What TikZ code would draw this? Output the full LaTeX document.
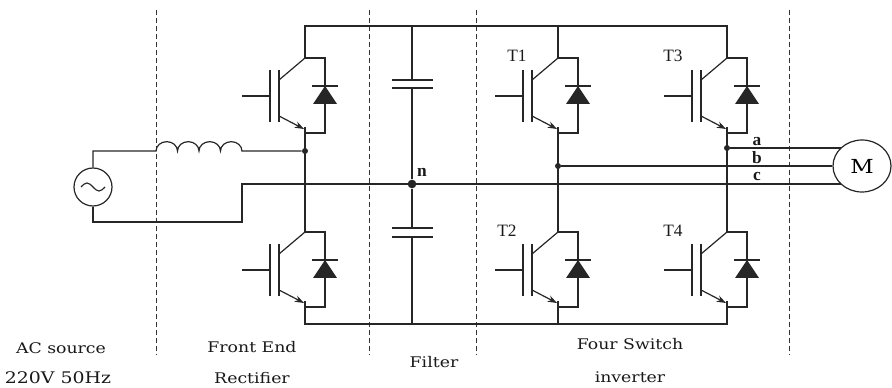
\documentclass[tikz,border=0pt]{standalone}
\usepackage{fontspec}
\setmainfont{Liberation Serif}
\newfontfamily\capfont{DejaVu Serif}[FakeStretch=1.18]
\usetikzlibrary{arrows.meta,shapes.geometric}

\tikzset{
  wire/.style={line width=0.9pt, draw=black!85},
  sep/.style={line width=0.7pt, draw=black!80, dash pattern=on 3.6pt off 2.4pt},
  caption/.style={font=\capfont\fontsize{11}{13}\selectfont, anchor=base, inner sep=0pt, text=black!90},
  tag/.style={font=\fontsize{13}{15}\selectfont, anchor=base, inner sep=0pt, text=black!90},
  phase/.style={font=\bfseries\fontsize{13}{15}\selectfont, anchor=base, inner sep=0pt, text=black!90},
  jdot/.style={circle, fill=black!85, inner sep=0pt, minimum size=#1},
  % IGBT with anti-parallel diode; origin = collector tap
  igbt/.pic={
    \draw[wire] (-26,22) -- (0,0);
    \draw[wire, -{Stealth[length=7pt,width=5pt]}] (-26,58) -- (-1,71);
    \draw[wire] (-26,12) -- (-26,64);
    \draw[wire] (-35,12) -- (-35,64);
    \draw[wire] (-63,38) -- (-35,38);
    \draw[wire] (0,0) -- (20,0) -- (20,28);
    \draw[wire] (7,28) -- (33,28);
    \fill[black!85] (20,28) -- (32,46) -- (8,46) -- cycle;
    \draw[wire] (20,46) -- (20,75) -- (0,75) -- (0,69);
    \coordinate (-C) at (0,0);
    \coordinate (-E) at (0,75);
  }
}

\begin{document}
\begin{tikzpicture}[x=0.75pt, y=-0.75pt]
\useasboundingbox (0,0) rectangle (892,388);

% stage separators
\foreach \x in {156,369,476,789}
  \draw[sep] (\x,10) -- (\x,355);

% switches
\pic (R1) at (305,58) {igbt};
\pic (R2) at (305,232) {igbt};
\pic (T1) at (558,58) {igbt};
\pic (T2) at (558,232) {igbt};
\pic (T3) at (727,58) {igbt};
\pic (T4) at (727,232) {igbt};

% rails
\coordinate (topL) at (305,26);
\coordinate (topR) at (727,26);
\coordinate (botL) at (305,324);
\coordinate (botR) at (727,324);
\draw[wire] (R1-C) -- (topL) -- (topR) -- (T3-C);
\draw[wire] (T1-C) -- (T1-C |- topL);
\draw[wire] (R2-E) -- (botL) -- (botR) -- (T4-E);
\draw[wire] (T2-E) -- (T2-E |- botL);

% legs
\draw[wire] (R1-E) -- (R2-C);
\draw[wire] (T1-E) -- (T2-C);
\draw[wire] (T3-E) -- (T4-C);

% DC-link capacitors
\coordinate (c1a) at (412,80);
\coordinate (c1b) at (412,88);
\coordinate (c2a) at (412,228);
\coordinate (c2b) at (412,237);
\node[jdot=6.5pt] (n) at (412,184) {};
\draw[wire] (c1a |- topL) -- (c1a);
\draw[wire] (392,80) -- (433,80);
\draw[wire] (392,88) -- (433,88);
\draw[wire] (c1b) -- (n) -- (c2a);
\draw[wire] (392,228) -- (433,228);
\draw[wire] (392,237) -- (433,237);
\draw[wire] (c2b) -- (c2b |- botL);
\node[phase] (nlab) at (422,177) {n};

% AC source and input inductor
\node[draw, circle, wire, minimum size=28.5pt, inner sep=0pt] (S) at (93,187) {};
\draw[wire] ([xshift=-9pt]S.center) sin ++(4.5pt,3pt) cos ++(4.5pt,-3pt)
  sin ++(4.5pt,-3pt) cos ++(4.5pt,3pt);
\coordinate (srcT) at (93,151);
\coordinate (Lin) at (156,151);
\node[jdot=4.5pt] (jL) at (305,151) {};
\draw[wire] (S.north) -- (srcT) -- (Lin)
  arc[start angle=180, end angle=0, x radius=8.06pt, y radius=7pt]
  arc[start angle=180, end angle=0, x radius=8.06pt, y radius=7pt]
  arc[start angle=180, end angle=0, x radius=8.06pt, y radius=7pt]
  arc[start angle=180, end angle=0, x radius=8.06pt, y radius=7pt]
  -- (jL);

% motor
\node[draw, ellipse, wire, minimum width=43.5pt, minimum height=39pt, inner sep=0pt,
  font=\capfont\fontsize{14.5}{16}\selectfont] (M) at (862,166) {M};

% phase lines
\node[jdot=4.5pt] (ja) at (727,148) {};
\node[jdot=4.5pt] (jb) at (558,166) {};
\coordinate (srcB) at (93,222);
\coordinate (retB) at (242,222);
\coordinate (retM) at (242,184);
\draw[wire] (ja) -- (ja -| M.139);
\draw[wire] (jb) -- (M.west);
\draw[wire] (S.south) -- (srcB) -- (retB) -- (retM) -- (retM -| M.221);
\node[phase] (la) at (757,146) {a};
\node[phase] (lb) at (757,164) {b};
\node[phase] (lc) at (757,181) {c};

% switch tags
\node[tag] (t1) at (517,62) {T1};
\node[tag] (t2) at (507,237) {T2};
\node[tag] (t3) at (673,62) {T3};
\node[tag] (t4) at (673,237) {T4};

% stage captions
\node[caption] (cap1) at (61,353) {AC source};
\node[caption, font=\capfont\fontsize{12}{14}\selectfont] (cap2) at (58,383) {220V 50Hz};
\node[caption] (cap3) at (252,352) {Front End};
\node[caption] (cap4) at (252,383) {Rectifier};
\node[caption] (cap5) at (434,367) {Filter};
\node[caption] (cap6) at (630,349) {Four Switch};
\node[caption] (cap7) at (630,382) {inverter};
\end{tikzpicture}
\end{document}
